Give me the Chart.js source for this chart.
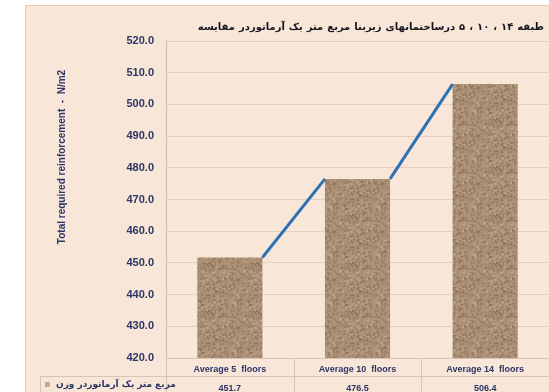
<!DOCTYPE html>
<html>
<head>
<meta charset="utf-8">
<script src="https://cdn.jsdelivr.net/npm/chart.js@4"></script>
<style>
  html, body { margin: 0; padding: 0; background: #ffffff; }
  #wrap { width: 549px; height: 392px; }
</style>
</head>
<body>
<div id="wrap"><canvas id="chart" width="549" height="392"></canvas></div>
<script>
// chart data
const categories = ['Average 5  floors', 'Average 10  floors', 'Average 14  floors'];
const weights = [451.7, 476.5, 506.4];
const yTicks = [420, 430, 440, 450, 460, 470, 480, 490, 500, 510, 520];
const titleWords = ['مقایسه', 'آرماتوردر', 'یک', 'متر', 'مربع', 'زیربنا', 'درساختمانهای', '۵', '،', '۱۰', '،', '۱۴', 'طبقه'];
const legendWords = ['وزن', 'آرماتوردر', 'یک', 'متر', 'مربع'];
const yTitle = 'Total required reinforcement  -  N/m2';

const NAVY = '#2c3566';

// words placed one by one from the right edge leftwards
const drawWords = (c, words, right, y, gap) => {
  let x = right;
  c.textAlign = 'right';
  for (let i = words.length - 1; i >= 0; i--) {
    c.fillText(words[i], x, y);
    x -= c.measureText(words[i]).width + gap;
  }
};
const wordsWidth = (c, words, gap) =>
  words.reduce((s, w) => s + c.measureText(w).width, 0) + gap * (words.length - 1);

// sandy texture for the bars (deterministic speckle)
const makeSand = () => {
  const c = document.createElement('canvas');
  c.width = 48; c.height = 48;
  const g = c.getContext('2d');
  g.fillStyle = '#aa8e73';
  g.fillRect(0, 0, 48, 48);
  const hash = (n) => {
    const s = Math.sin(n * 12.9898) * 43758.5453;
    return s - Math.floor(s);
  };
  for (let i = 0; i < 700; i++) {
    const x = Math.floor(hash(i + 1) * 48);
    const y = Math.floor(hash(i + 1000) * 48);
    const t = hash(i + 2000);
    g.fillStyle = t < 0.5 ? 'rgba(130,102,78,0.3)' : 'rgba(200,176,148,0.3)';
    g.fillRect(x, y, 2, 2);
  }
  return g.createPattern(c, 'repeat');
};

const ctx = document.getElementById('chart').getContext('2d');
const sand = makeSand();

const decorPlugin = {
  id: 'decor',
  beforeDraw(chart) {
    const c = chart.ctx;
    c.save();
    c.fillStyle = '#ffffff';
    c.fillRect(0, 0, chart.width, chart.height);
    c.fillStyle = '#f8e6d8';
    c.fillRect(25, 5, chart.width - 25, chart.height - 5);
    c.strokeStyle = '#e2cdbd';
    c.lineWidth = 1;
    c.beginPath();
    c.moveTo(25, 5.5); c.lineTo(chart.width, 5.5);
    c.moveTo(25.5, 5); c.lineTo(25.5, chart.height);
    c.stroke();
    c.restore();
  },
  afterDatasetsDraw(chart) {
    // series lines: top-right of one bar to top-left of the next
    const bars = chart.getDatasetMeta(0).data;
    const c = chart.ctx;
    c.save();
    c.strokeStyle = '#2e72b4';
    c.lineWidth = 3;
    c.beginPath();
    for (let i = 0; i < bars.length - 1; i++) {
      const a = bars[i], b = bars[i + 1];
      c.moveTo(a.x + a.width / 2, a.y);
      c.lineTo(b.x - b.width / 2, b.y);
    }
    c.stroke();
    c.restore();
  },
  afterDraw(chart) {
    const c = chart.ctx;
    const area = chart.chartArea;
    const x = chart.scales.x;
    const bottom = chart.height;
    const rowY = area.bottom + 18;

    c.save();
    // title
    c.fillStyle = '#15151f';
    c.font = 'bold 10px "DejaVu Sans"';
    c.textBaseline = 'middle';
    c.direction = 'ltr';
    drawWords(c, titleWords, 544, 27, 4);

    // y axis title
    c.save();
    c.translate(62, 157);
    c.rotate(-Math.PI / 2);
    c.fillStyle = NAVY;
    c.textAlign = 'center';
    c.font = 'bold 10px "Liberation Sans"';
    c.fillText(yTitle, 0, 0);
    c.restore();

    // data table grid
    c.strokeStyle = '#d9c3b2';
    c.lineWidth = 1;
    c.beginPath();
    c.moveTo(40, Math.round(rowY) + 0.5);
    c.lineTo(chart.width, Math.round(rowY) + 0.5);
    c.moveTo(40.5, Math.round(rowY));
    c.lineTo(40.5, bottom);
    const half = (x.getPixelForValue(1) - x.getPixelForValue(0)) / 2;
    for (let i = 0; i <= categories.length; i++) {
      const px = Math.round(x.getPixelForValue(i) - half) + 0.5;
      c.moveTo(px, area.bottom);
      c.lineTo(px, bottom);
    }
    c.stroke();

    // legend key in the table
    c.fillStyle = '#c7ab8f';
    c.fillRect(45, rowY + 6, 5, 5);
    c.fillStyle = NAVY;
    c.font = 'bold 9px "DejaVu Sans"';
    const lw = wordsWidth(c, legendWords, 3);
    drawWords(c, legendWords, 56 + lw, rowY + 9, 3);
    c.restore();
  }
};

new Chart(ctx, {
  type: 'bar',
  data: {
    labels: categories.map((cat, i) => [cat, weights[i].toFixed(1)]),
    datasets: [{
      label: legendWords.join(' '),
      data: weights,
      backgroundColor: sand,
      borderWidth: 0,
      categoryPercentage: 1,
      barPercentage: 0.51
    }]
  },
  options: {
    responsive: false,
    animation: false,
    layout: { padding: { left: 26, right: 0, top: 41, bottom: 0 } },
    plugins: {
      legend: { display: false },
      tooltip: { enabled: false },
      title: { display: false }
    },
    scales: {
      y: {
        min: yTicks[0],
        max: yTicks[yTicks.length - 1],
        afterBuildTicks(scale) {
          scale.ticks = yTicks.map(v => ({ value: v }));
        },
        afterFit(scale) { scale.width = 140; },
        ticks: {
          color: NAVY,
          font: { family: 'Liberation Sans', size: 11, weight: 'bold' },
          padding: 12,
          callback: v => Number(v).toFixed(1)
        },
        grid: { color: '#e6cfbf', lineWidth: 1, drawTicks: false },
        border: { display: true, color: '#cdb9aa' }
      },
      x: {
        afterFit(scale) { scale.height = 34; },
        ticks: {
          color: NAVY,
          font: { family: 'Liberation Sans', size: 9, weight: 'bold', lineHeight: 2.1 },
          padding: 2,
          maxRotation: 0
        },
        grid: { display: false, drawTicks: false },
        border: { display: true, color: '#d9c3b2' }
      }
    }
  },
  plugins: [decorPlugin]
});
</script>
</body>
</html>
